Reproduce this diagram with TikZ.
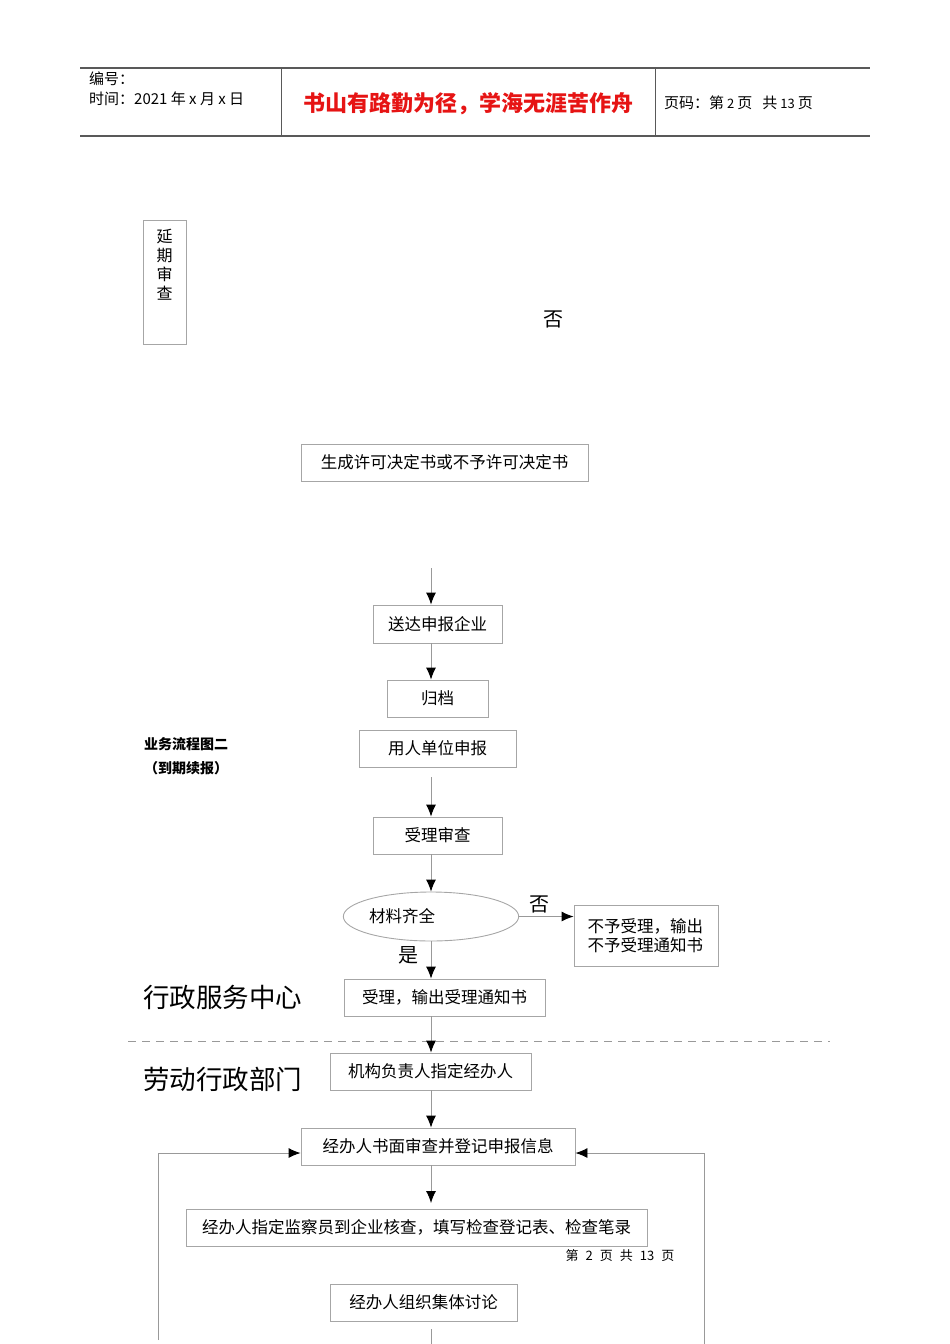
\documentclass[tikz,border=0pt]{standalone}
\usepackage{fontspec}
\setmainfont{Noto Sans CJK SC}
\usetikzlibrary{shapes.geometric,arrows.meta}
\definecolor{boxgray}{gray}{0.65}
\definecolor{linegray}{gray}{0.6}
\definecolor{headgray}{gray}{0.35}
\definecolor{titlered}{RGB}{230,20,20}
\tikzset{
  flow_box/.style = {draw=boxgray, line width=0.9pt, align=center, inner sep=0pt, font=\fontsize{16.5}{19}\selectfont},
  flow_oval/.style = {flow_box, ellipse},
  flow_line/.style = {draw=linegray, line width=0.9pt},
  flow_arrow/.style = {flow_line, -{Latex[length=12pt,width=10pt,color=black]}},
  lane_label/.style = {font=\fontsize{26.5}{30}\selectfont, anchor=west, inner sep=0pt},
  yn_label/.style = {font=\fontsize{20}{22}\selectfont, inner sep=0pt},
  head_text/.style = {font=\fontsize{15}{18}\selectfont, anchor=west, inner sep=0pt},
  head_line/.style = {draw=headgray, line width=1.4pt}
}
\begin{document}
\begin{tikzpicture}[x=1pt, y=-1pt]
\useasboundingbox (0,0) rectangle (950,1344);
% page header
\draw[head_line] (80,68) -- (870,68);
\draw[head_line] (80,136) -- (870,136);
\draw[draw=headgray, line width=1pt] (281,68) -- (281,136) (655,68) -- (655,136);
\node[head_text] (h_no) at (89,79) {编号：};
\node[head_text] (h_date) at (89,99) {时间：2021 年 x 月 x 日};
\node[inner sep=0pt, text=titlered, font=\fontsize{22}{26}\selectfont\bfseries] (h_title) at (468,104) {书山有路勤为径，学海无涯苦作舟};
\node[head_text] (h_page) at (664,103) {页码：第\hspace{3pt}{\fontsize{13}{15}\selectfont 2}\hspace{3pt}页\hspace{10pt}共\hspace{3pt}{\fontsize{13}{15}\selectfont 13}\hspace{3pt}页};

% upper part
\node[flow_box, minimum width=43pt, minimum height=124pt] (yanqi) at (164.5,282) {};
\node[inner sep=0pt, align=center, font=\fontsize{16}{19}\selectfont] (yanqi_txt) at (164.5,265) {延\\期\\审\\查};
\node[yn_label] (no_top) at (553,319) {否};
\node[flow_box, minimum width=287pt, minimum height=37pt] (gen) at (444.5,462.5) {生成许可决定书或不予许可决定书};

\coordinate (in_song) at (431,568);
\node[flow_box, minimum width=129pt, minimum height=38pt] (song) at (437.5,624) {送达申报企业};
\node[flow_box, minimum width=101pt, minimum height=37pt] (guidang) at (437.5,698.5) {归档};
\draw[flow_arrow] (in_song) -- (in_song |- song.north);
\draw[flow_arrow] (song.south -| in_song) -- (guidang.north -| in_song);

% flow two
\node[anchor=west, inner sep=0pt, font=\fontsize{14}{16}\selectfont\bfseries] (flow_two) at (144,744) {业务流程图二};
\node[anchor=west, inner sep=0pt, font=\fontsize{14}{16}\selectfont\bfseries] (flow_two_sub) at (144,768) {（到期续报）};
\node[flow_box, minimum width=157pt, minimum height=37pt] (shenbao) at (437.5,748.5) {用人单位申报};
\node[flow_box, minimum width=129pt, minimum height=37pt] (shencha) at (437.5,835.5) {受理审查};
\node[flow_oval, minimum width=172pt, minimum height=49pt] (cailiao) at (431,916.5) {材料齐全\hspace{58pt}};
\node[flow_box, minimum width=144pt, minimum height=61pt, align=left, text width=117pt] (buyu) at (646,935.5) {不予受理，输出\\不予受理通知书};
\node[flow_box, minimum width=201pt, minimum height=37pt] (shouli) at (444.5,997.5) {受理，输出受理通知书};
\node[yn_label] (no_mid) at (539,904) {否};
\node[yn_label] (yes_mid) at (408,955) {是};
\draw[flow_arrow, shorten <=10pt] (shenbao.south -| in_song) -- (shencha.north -| in_song);
\draw[flow_arrow] (shencha.south -| in_song) -- (cailiao.north -| in_song);
\draw[flow_arrow] (cailiao.east) -- (cailiao.east -| buyu.west);
\draw[flow_arrow] (cailiao.south -| in_song) -- (shouli.north -| in_song);

% lanes
\node[lane_label] (lane_top) at (143,997) {行政服务中心};
\node[lane_label] (lane_bot) at (143,1079) {劳动行政部门};
\draw[draw=linegray, line width=0.9pt, dash pattern=on 8pt off 6pt] (128,1041) -- (830,1041);

\node[flow_box, minimum width=201pt, minimum height=37pt] (zhiding) at (430.5,1071.5) {机构负责人指定经办人};
\node[flow_box, minimum width=274pt, minimum height=37pt] (shumian) at (438,1146.5) {经办人书面审查并登记申报信息};
\node[flow_box, minimum width=461pt, minimum height=37pt] (hecha) at (416.5,1227.5) {经办人指定监察员到企业核查，填写检查登记表、检查笔录};
\node[inner sep=0pt, font=\fontsize{13}{15}\selectfont] (footer) at (620,1256) {第\hspace{7pt}2\hspace{7pt}页\hspace{7pt}共\hspace{7pt}13\hspace{7pt}页};
\node[flow_box, minimum width=187pt, minimum height=37pt] (taolun) at (423.5,1302.5) {经办人组织集体讨论};
\draw[flow_arrow] (shouli.south -| in_song) -- (zhiding.north -| in_song);
\draw[flow_arrow] (zhiding.south -| in_song) -- (shumian.north -| in_song);
\draw[flow_arrow] (shumian.south -| in_song) -- (431,1203);
\coordinate (out_taolun) at (431,1344);
\draw[flow_line, shorten <=8pt] (taolun.south -| in_song) -- (out_taolun);

% return loops
\coordinate (loop_l) at (158,1340);
\coordinate (loop_r) at (704,1344);
\draw[flow_arrow] (loop_l) |- ([yshift=-6.5pt]shumian.west);
\draw[flow_arrow] (loop_r) |- ([yshift=-6.5pt]shumian.east);
\end{tikzpicture}
\end{document}
